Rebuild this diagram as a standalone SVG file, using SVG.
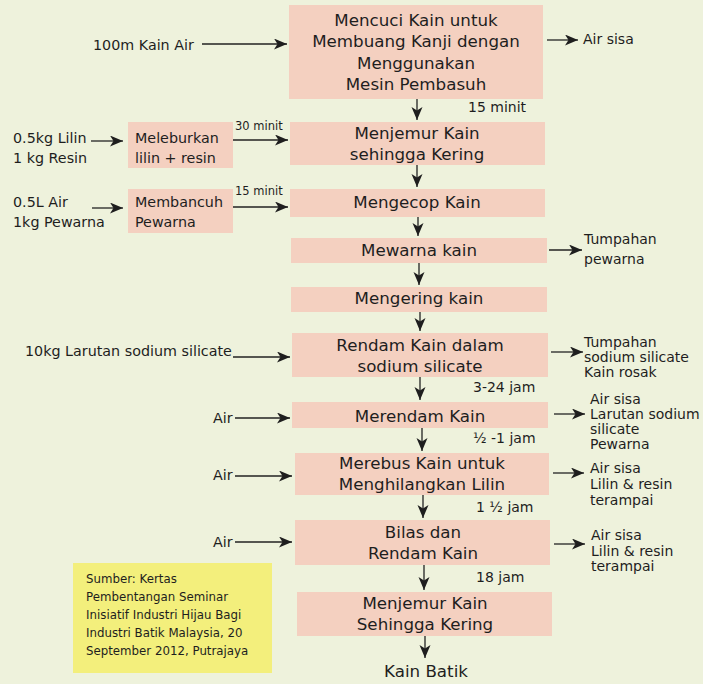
<svg xmlns="http://www.w3.org/2000/svg" width="703" height="684" viewBox="0 0 703 684">
<defs>
<marker id="ah" markerUnits="userSpaceOnUse" markerWidth="14" markerHeight="12" refX="13" refY="5.5" orient="auto">
<path d="M0,0 L13,5.5 L0,11 L3.5,5.5 z" fill="#1e1e1e"/>
</marker>
</defs>
<style>
.bg{fill:#eef2dc}
.box{fill:#f4d0c0}
.src{fill:#f3ef7c}
text{font-family:"DejaVu Sans","Liberation Sans",sans-serif;fill:#1e1e1e}
.m{font-size:16.7px;text-anchor:middle}
.l{font-size:14.3px}
.r{font-size:14px}
.t{font-size:14px}
.s{font-size:11.5px}
.n{font-size:11.8px}
.c line{stroke:#222;stroke-width:1.3;marker-end:url(#ah)}
</style>
<rect class="bg" x="0" y="0" width="703" height="684"/>

<g id="n1"><rect class="box" x="289" y="5" width="254" height="94"/>
<text class="m" x="416" y="26">Mencuci Kain untuk</text>
<text class="m" x="416" y="47.3">Membuang Kanji dengan</text>
<text class="m" x="416" y="68.6">Menggunakan</text>
<text class="m" x="416" y="90">Mesin Pembasuh</text></g>

<g id="n2"><rect class="box" x="290" y="122" width="255" height="43"/>
<text class="m" x="417" y="139">Menjemur Kain</text>
<text class="m" x="417" y="160">sehingga Kering</text></g>

<g id="n3"><rect class="box" x="290" y="189" width="255" height="28"/>
<text class="m" x="417" y="208">Mengecop Kain</text></g>

<g id="n4"><rect class="box" x="291" y="238" width="256" height="25"/>
<text class="m" x="419" y="256">Mewarna kain</text></g>

<g id="n5"><rect class="box" x="291" y="287" width="256" height="25"/>
<text class="m" x="419" y="304">Mengering kain</text></g>

<g id="n6"><rect class="box" x="292" y="333" width="256" height="44"/>
<text class="m" x="420" y="351">Rendam Kain dalam</text>
<text class="m" x="420" y="372">sodium silicate</text></g>

<g id="n7"><rect class="box" x="292" y="402" width="256" height="26"/>
<text class="m" x="420" y="422">Merendam Kain</text></g>

<g id="n8"><rect class="box" x="295" y="453" width="254" height="42"/>
<text class="m" x="422" y="469">Merebus Kain untuk</text>
<text class="m" x="422" y="490">Menghilangkan Lilin</text></g>

<g id="n9"><rect class="box" x="295" y="520" width="255" height="45"/>
<text class="m" x="423" y="538">Bilas dan</text>
<text class="m" x="423" y="559">Rendam Kain</text></g>

<g id="n10"><rect class="box" x="297" y="592" width="255" height="44"/>
<text class="m" x="425" y="609">Menjemur Kain</text>
<text class="m" x="425" y="630">Sehingga Kering</text></g>

<g id="n11"><text class="m" x="426" y="677">Kain Batik</text></g>

<g id="in1"><text class="l" x="93" y="50">100m Kain Air</text></g>
<g id="in2"><text class="l" x="13" y="143">0.5kg Lilin</text><text class="l" x="13" y="163">1 kg Resin</text></g>
<g id="p1"><rect class="box" x="128" y="122" width="105" height="46"/>
<text class="l" x="135" y="143">Meleburkan</text>
<text class="l" x="135" y="163">lilin + resin</text></g>
<g id="in3"><text class="l" x="13" y="207">0.5L Air</text><text class="l" x="13" y="227">1kg Pewarna</text></g>
<g id="p2"><rect class="box" x="128" y="189" width="105" height="44"/>
<text class="l" x="135" y="207">Membancuh</text>
<text class="l" x="135" y="227">Pewarna</text></g>
<g id="in4"><text class="l" x="25" y="356">10kg Larutan sodium silicate</text></g>
<g id="in5"><text class="l" x="213" y="423">Air</text></g>
<g id="in6"><text class="l" x="213" y="480">Air</text></g>
<g id="in7"><text class="l" x="213" y="547">Air</text></g>

<g id="out1"><text class="r" x="583" y="44">Air sisa</text></g>
<g id="out2"><text class="r" x="584" y="244">Tumpahan</text><text class="r" x="584" y="264">pewarna</text></g>
<g id="out3"><text class="r" x="584" y="347">Tumpahan</text><text class="r" x="584" y="362">sodium silicate</text><text class="r" x="584" y="377">Kain rosak</text></g>
<g id="out4"><text class="r" x="590" y="404">Air sisa</text><text class="r" x="590" y="419">Larutan sodium</text><text class="r" x="590" y="434">silicate</text><text class="r" x="590" y="449">Pewarna</text></g>
<g id="out5"><text class="r" x="590" y="473">Air sisa</text><text class="r" x="590" y="489">Lilin &amp; resin</text><text class="r" x="590" y="505">terampai</text></g>
<g id="out6"><text class="r" x="591" y="540">Air sisa</text><text class="r" x="591" y="556">Lilin &amp; resin</text><text class="r" x="591" y="571">terampai</text></g>

<g id="src"><rect class="src" x="73" y="563" width="199" height="110"/>
<text class="n" x="86" y="583">Sumber: Kertas</text>
<text class="n" x="86" y="601">Pembentangan Seminar</text>
<text class="n" x="86" y="619">Inisiatif Industri Hijau Bagi</text>
<text class="n" x="86" y="637">Industri Batik Malaysia, 20</text>
<text class="n" x="86" y="655">September 2012, Putrajaya</text></g>

<g id="labels">
<text class="t" x="468" y="112">15 minit</text>
<text class="s" x="235" y="130">30 minit</text>
<text class="s" x="235" y="195">15 minit</text>
<text class="t" x="473" y="392">3-24 jam</text>
<text class="t" x="473" y="443">½ -1 jam</text>
<text class="t" x="476" y="512">1 ½ jam</text>
<text class="t" x="476" y="582">18 jam</text>
</g>

<g class="c" id="connectors">
<line x1="417" y1="99" x2="417" y2="120"/>
<line x1="417" y1="165" x2="417" y2="187"/>
<line x1="418" y1="217" x2="418" y2="236"/>
<line x1="419" y1="263" x2="419" y2="285"/>
<line x1="420" y1="312" x2="420" y2="331"/>
<line x1="420" y1="377" x2="420" y2="400"/>
<line x1="422" y1="428" x2="422" y2="451"/>
<line x1="423" y1="495" x2="423" y2="518"/>
<line x1="424" y1="565" x2="424" y2="590"/>
<line x1="425" y1="636" x2="425" y2="658"/>

<line x1="202" y1="44" x2="287" y2="44"/>
<line x1="91" y1="141" x2="123" y2="141"/>
<line x1="233" y1="140" x2="288" y2="140"/>
<line x1="92" y1="208" x2="123" y2="208"/>
<line x1="233" y1="207" x2="288" y2="207"/>
<line x1="233" y1="357" x2="290" y2="357"/>
<line x1="235" y1="418" x2="290" y2="418"/>
<line x1="235" y1="476" x2="292" y2="476"/>
<line x1="235" y1="542" x2="292" y2="542"/>

<line x1="547" y1="40" x2="578" y2="40"/>
<line x1="549" y1="250" x2="582" y2="250"/>
<line x1="551" y1="352" x2="583" y2="352"/>
<line x1="554" y1="414" x2="585" y2="414"/>
<line x1="553" y1="473" x2="584" y2="473"/>
<line x1="554" y1="544" x2="585" y2="544"/>
</g>
</svg>
